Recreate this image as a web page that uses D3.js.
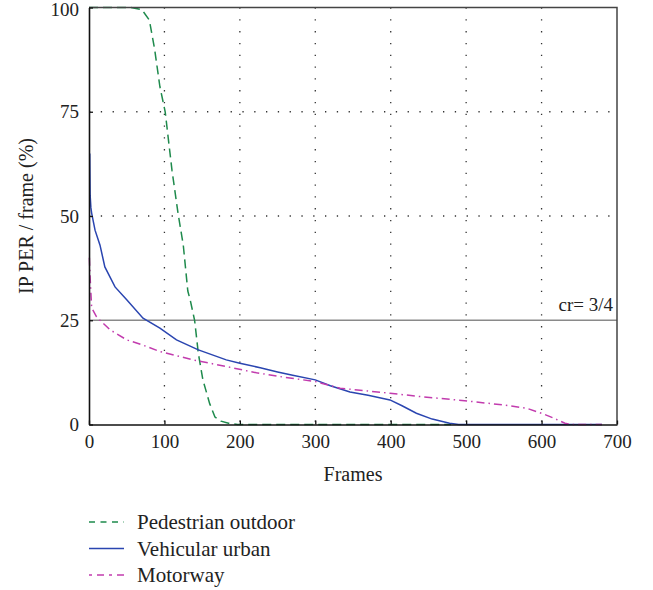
<!DOCTYPE html>
<html>
<head>
<meta charset="utf-8">
<script src="https://cdn.jsdelivr.net/npm/d3@7"></script>
<style>
  body { margin: 0; background: #fff; }
  svg text { font-family: "Liberation Serif", "DejaVu Serif", serif; fill: #222; }
</style>
</head>
<body>
<div id="chart"></div>
<script>
// curves (frames -> IP PER %)
const pedFrames = [0, 55, 70, 80, 87, 94, 101, 110, 118, 125, 131, 134, 140, 145, 151, 160, 167, 175, 185, 197, 480];
const pedValues = [100, 100, 99.5, 97, 90, 81, 75, 61, 50.7, 43, 32, 30, 25, 17, 10.7, 5, 1.8, 0.8, 0.3, 0, 0];

const vehFrames = [1, 1.5, 2.5, 3.5, 8, 14.6, 21, 34.5, 50, 71.6, 94, 116, 145, 182, 200, 227, 250, 270, 300, 320, 346, 370, 399, 415, 434, 455, 478, 490, 680];
const vehValues = [65, 55, 52, 50.7, 46.6, 43, 37.8, 33, 29.9, 25.5, 23.1, 20.3, 17.9, 15.5, 14.7, 13.6, 12.6, 11.8, 10.7, 9.3, 7.8, 7.0, 5.9, 4.5, 2.7, 1.3, 0.3, 0, 0];

const motFrames = [0.5, 1.3, 3.5, 10, 28, 50, 72, 94, 138, 182, 222, 260, 300, 333, 399, 439, 498, 549, 580, 600, 615, 631, 640, 680];
const motValues = [40, 36, 28, 25.8, 22.7, 20.3, 19, 17.5, 15.5, 13.9, 12.4, 11.3, 10.3, 8.7, 7.5, 6.7, 5.7, 4.7, 3.9, 2.7, 1.6, 0.3, 0, 0];

const xTicks = [0, 100, 200, 300, 400, 500, 600, 700];
const yTicks = [0, 25, 50, 75, 100];
const crLevel = 25;

const series = [
    { name: "Pedestrian outdoor", xs: pedFrames, ys: pedValues, color: "#1e8a4c", dash: "9,5" },
    { name: "Vehicular urban", xs: vehFrames, ys: vehValues, color: "#2a45b0", dash: null },
    { name: "Motorway", xs: motFrames, ys: motValues, color: "#c23cae", dash: "8,4,1.5,4" }
];

let width = 653;
let height = 590;
let plot = { left: 89, right: 617, top: 7.5, bottom: 424.5 };

let svg = d3.select("#chart")
    .append("svg")
    .attr("width", width)
    .attr("height", height);

let x = d3.scaleLinear().domain([0, 700]).range([plot.left, plot.right]);
let y = d3.scaleLinear().domain([0, 100]).range([plot.bottom, plot.top]);

// dotted grid
svg.append("g")
    .selectAll("line")
    .data(xTicks.slice(1, -1))
    .enter()
    .append("line")
    .attr("x1", d => x(d)).attr("x2", d => x(d))
    .attr("y1", plot.top).attr("y2", plot.bottom)
    .attr("stroke", "#333")
    .attr("stroke-width", 1.3)
    .attr("stroke-dasharray", "1.3,10.5");
svg.append("g")
    .selectAll("line")
    .data(yTicks.slice(1, -1).filter(d => d !== crLevel))
    .enter()
    .append("line")
    .attr("x1", plot.left).attr("x2", plot.right)
    .attr("y1", d => y(d)).attr("y2", d => y(d))
    .attr("stroke", "#333")
    .attr("stroke-width", 1.3)
    .attr("stroke-dasharray", "1.3,10.5");

// cr = 3/4 reference line
svg.append("line")
    .attr("x1", plot.left).attr("x2", plot.right)
    .attr("y1", y(crLevel)).attr("y2", y(crLevel))
    .attr("stroke", "#8a8a8a")
    .attr("stroke-width", 1.3);
svg.append("text")
    .attr("x", plot.right - 4)
    .attr("y", y(crLevel) - 9)
    .attr("text-anchor", "end")
    .attr("font-size", "19px")
    .text("cr= 3/4");

// curves
let line = d3.line().x(d => x(d[0])).y(d => y(d[1]));
series.forEach(s => {
    svg.append("path")
        .datum(s.xs.map((f, i) => [f, s.ys[i]]))
        .attr("fill", "none")
        .attr("stroke", s.color)
        .attr("stroke-width", 1.5)
        .attr("stroke-dasharray", s.dash)
        .attr("d", line);
});

// frame (top / right)
svg.append("path")
    .attr("d", `M${plot.left},${plot.top}H${plot.right}V${plot.bottom}`)
    .attr("fill", "none")
    .attr("stroke", "#444")
    .attr("stroke-width", 1.5);

// axes
let xAxis = svg.append("g")
    .attr("transform", `translate(0,${plot.bottom})`)
    .call(d3.axisBottom(x).tickValues(xTicks).tickSizeInner(-4).tickSizeOuter(0).tickPadding(10));
let yAxis = svg.append("g")
    .attr("transform", `translate(${plot.left},0)`)
    .call(d3.axisLeft(y).tickValues(yTicks).tickSizeInner(-4).tickSizeOuter(0).tickPadding(10));
[xAxis, yAxis].forEach(g => {
    g.select(".domain").attr("stroke", "#111").attr("stroke-width", 1.6);
    g.selectAll(".tick line").attr("stroke", "#111").attr("stroke-width", 1.3);
    g.selectAll("text").attr("font-size", "19px").attr("font-family", null).attr("fill", "#222");
    g.attr("font-family", null);
});
// keep the top label inside the page
yAxis.selectAll(".tick text").filter(d => d === 100).attr("dy", "0.42em");

// axis titles
svg.append("text")
    .attr("x", (plot.left + plot.right) / 2)
    .attr("y", 481)
    .attr("text-anchor", "middle")
    .attr("font-size", "20px")
    .text("Frames");
svg.append("text")
    .attr("transform", `translate(33,${(plot.top + plot.bottom) / 2}) rotate(-90)`)
    .attr("text-anchor", "middle")
    .attr("font-size", "20px")
    .text("IP PER / frame (%)");

// legend
let legend = svg.append("g")
    .selectAll("g")
    .data(series)
    .enter()
    .append("g")
    .attr("transform", (d, i) => `translate(89,${522 + i * 26.5})`);
legend.append("line")
    .attr("x1", 0).attr("x2", 35)
    .attr("stroke", d => d.color)
    .attr("stroke-width", 1.5)
    .attr("stroke-dasharray", (d, i) => i === 0 ? "6,5.5" : i === 2 ? "3,5,7,5" : null);
legend.append("text")
    .attr("x", 48)
    .attr("dy", "0.35em")
    .attr("font-size", "21px")
    .text(d => d.name);
</script>
</body>
</html>
